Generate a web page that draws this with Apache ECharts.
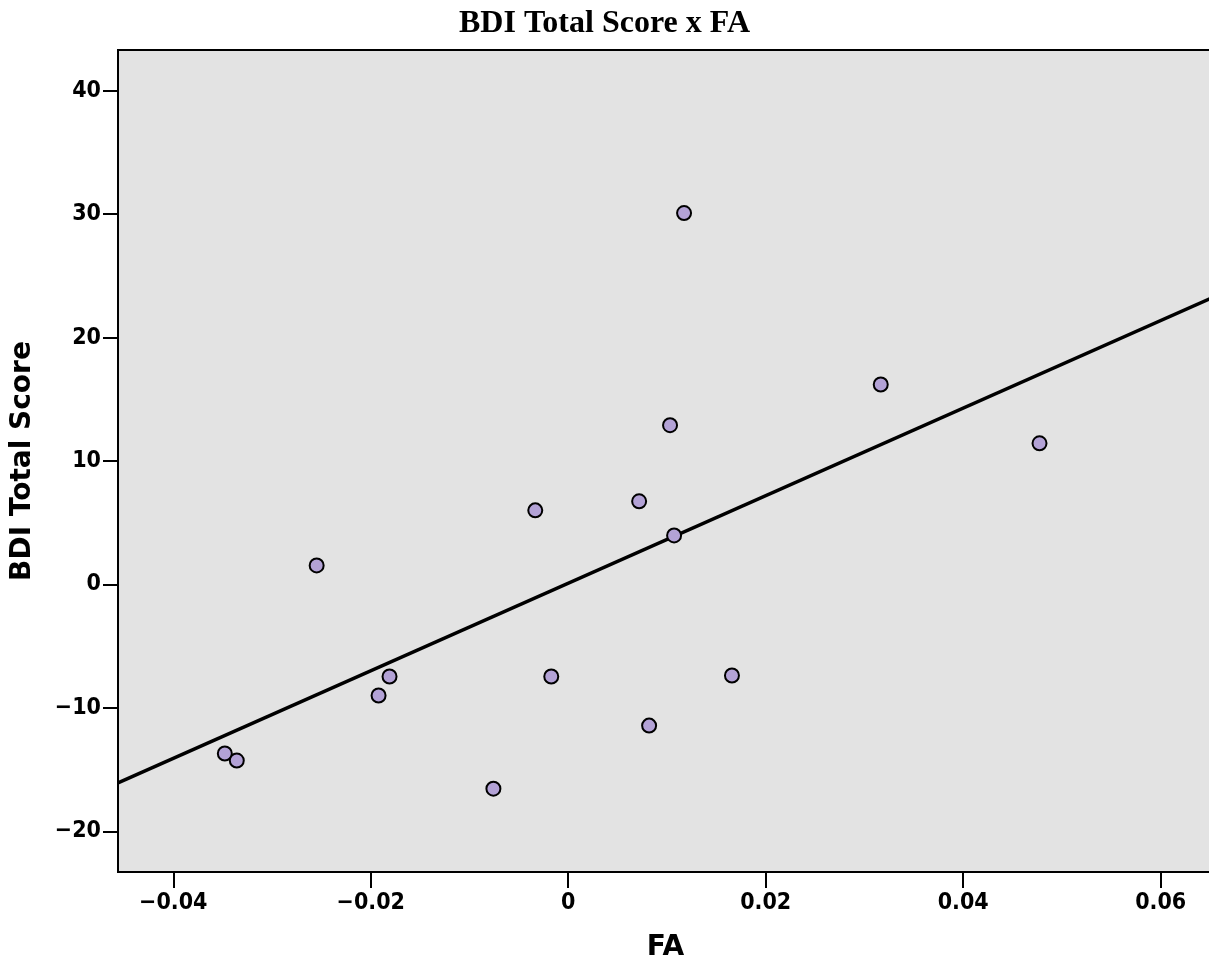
<!DOCTYPE html>
<html>
<head>
<meta charset="utf-8">
<title>BDI Total Score x FA</title>
<script src="https://cdn.jsdelivr.net/npm/echarts@6/dist/echarts.min.js"></script>
<style>
  html, body { margin: 0; padding: 0; background: #fff; }
  #chart { width: 1209px; height: 966px; }
</style>
</head>
<body>
<div id="chart"></div>
<script>
// FA (residual) values, one per subject
const faValues = [0.01173, 0.03165, 0.04773, 0.01031, 0.00718, 0.01072, -0.00334, -0.02548,
  -0.0181, -0.01921, -0.00172, 0.01658, 0.00819, -0.00758, -0.03478, -0.03357]
// BDI total score (residual) values
const bdiValues = [30.09, 16.2, 11.43, 12.9, 6.73, 3.97, 6.0, 1.54,
  -7.46, -9.0, -7.46, -7.38, -11.44, -16.55, -13.7, -14.27]

const xTicks = [-0.04, -0.02, 0, 0.02, 0.04, 0.06]
const yTicks = [-20, -10, 0, 10, 20, 30, 40]
const xRange = [-0.0456, 0.0653]
const yRange = [-23.3, 43.3]

// least squares fit line
const n = faValues.length
const mx = faValues.reduce((a, b) => a + b, 0) / n
const my = bdiValues.reduce((a, b) => a + b, 0) / n
let sxy = 0
let sxx = 0
faValues.forEach((x, i) => {
  sxy += (x - mx) * (bdiValues[i] - my)
  sxx += (x - mx) * (x - mx)
})
const slope = sxy / sxx
const intercept = my - slope * mx
const fitLine = xRange.map(x => [x, intercept + slope * x])

const minus = s => String(s).replace('-', '\u2212')
const labelFont = { fontFamily: 'DejaVu Sans Condensed, DejaVu Sans', fontWeight: 'bold', fontSize: 23, color: '#000' }
const nameFont = { fontFamily: 'DejaVu Sans', fontWeight: 'bold', fontSize: 28, color: '#000' }

const chart = echarts.init(document.getElementById('chart'))
chart.setOption({
  animation: false,
  title: {
    text: 'BDI Total Score x FA',
    left: 'center',
    top: 3,
    textStyle: { fontFamily: 'Liberation Serif', fontWeight: 'bold', fontSize: 32, color: '#000' }
  },
  grid: {
    left: 118,
    top: 50,
    right: -4,
    bottom: 94,
    outerBoundsMode: 'none',
    containLabel: false,
    show: true,
    backgroundColor: '#e3e3e3',
    borderColor: '#000',
    borderWidth: 2
  },
  xAxis: {
    type: 'value',
    min: xRange[0],
    max: xRange[1],
    name: 'FA',
    nameLocation: 'middle',
    nameGap: 62,
    nameTextStyle: nameFont,
    axisLine: { show: true, onZero: false, lineStyle: { color: '#000', width: 2 } },
    axisTick: { show: true, customValues: xTicks, length: 16, lineStyle: { color: '#000', width: 2 } },
    axisLabel: {
      customValues: xTicks,
      margin: 20,
      ...labelFont,
      formatter: v => v === 0 ? '0' : minus(v.toFixed(2))
    },
    splitLine: { show: false }
  },
  yAxis: {
    type: 'value',
    min: yRange[0],
    max: yRange[1],
    name: 'BDI Total Score',
    nameLocation: 'middle',
    nameGap: 81,
    nameTextStyle: nameFont,
    axisLine: { show: true, onZero: false, lineStyle: { color: '#000', width: 2 } },
    axisTick: { show: true, customValues: yTicks, length: 15, lineStyle: { color: '#000', width: 2 } },
    axisLabel: {
      customValues: yTicks,
      margin: 17,
      ...labelFont,
      formatter: v => minus(v)
    },
    splitLine: { show: false }
  },
  series: [
    {
      type: 'line',
      data: fitLine,
      symbol: 'none',
      lineStyle: { color: '#000', width: 3.5 },
      z: 2
    },
    {
      type: 'scatter',
      data: faValues.map((x, i) => [x, bdiValues[i]]),
      symbolSize: 14,
      itemStyle: { color: '#b3a2d6', borderColor: '#000', borderWidth: 2, opacity: 1 },
      z: 3
    }
  ]
})
</script>
</body>
</html>
